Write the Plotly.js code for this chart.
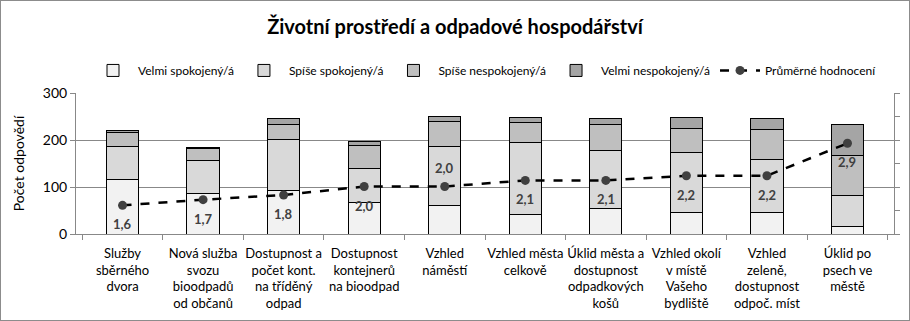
<!DOCTYPE html>
<html><head><meta charset="utf-8">
<script src="https://cdn.plot.ly/plotly-3.0.1.min.js"></script>
<style>html,body{margin:0;padding:0;background:#fff}#c{width:910px;height:321px;outline:1px solid #8c8c8c;outline-offset:-1px}</style>
</head><body><div id="c"></div>
<script>
const categories = [
  "Služby<br>sběrného<br>dvora",
  "Nová služba<br>svozu<br>bioodpadů<br>od občanů",
  "Dostupnost a<br>počet kont.<br>na tříděný<br>odpad",
  "Dostupnost<br>kontejnerů<br>na bioodpad",
  "Vzhled<br>náměstí",
  "Vzhled města<br>celkově",
  "Úklid města a<br>dostupnost<br>odpadkových<br>košů",
  "Vzhled okolí<br>v místě<br>Vašeho<br>bydliště",
  "Vzhled<br>zeleně,<br>dostupnost<br>odpoč. míst",
  "Úklid po<br>psech ve<br>městě"
];
const velmiSpokojeny   = [115, 87, 93, 66, 61, 42, 55, 46, 46, 15];
const spiseSpokojeny   = [72, 70, 109, 74, 126, 152, 122, 127, 113, 67];
const spiseNespokojeny = [30, 24, 30, 48, 53, 44, 55, 52, 64, 84];
const velmiNespokojeny = [4, 2, 13, 8, 11, 9, 13, 22, 22, 68];
const prumer = [1.61, 1.73, 1.83, 2.01, 2.01, 2.14, 2.14, 2.24, 2.24, 2.93];
const prumerLabels = ["1,6", "1,7", "1,8", "2,0", "2,0", "2,1", "2,1", "2,2", "2,2", "2,9"];
const labelAbove = [false, false, false, false, true, false, false, false, false, false];

const FONT = "Lato, 'Open Sans', sans-serif";
function bar(name, y, color){
  return {type:'bar', name:name, x:categories, y:y,
    marker:{color:color, line:{color:'#000', width:1}}, hoverinfo:'y+name'};
}
const traces = [
  bar('Velmi spokojený/á', velmiSpokojeny, '#f2f2f2'),
  bar('Spíše spokojený/á', spiseSpokojeny, '#d9d9d9'),
  bar('Spíše nespokojený/á', spiseNespokojeny, '#bfbfbf'),
  bar('Velmi nespokojený/á', velmiNespokojeny, '#a5a5a5'),
  {type:'scatter', mode:'lines+markers', name:'Průměrné hodnocení', x:categories, y:prumer, yaxis:'y2',
    line:{color:'#000', width:2.5, dash:'dash'}, marker:{color:'#404040', size:9}}
];
const annotations = categories.map((c, i) => ({
  x: c, y: prumer[i], xref:'x', yref:'y2', text: prumerLabels[i], showarrow:false,
  yshift: labelAbove[i] ? 19 : -19,
  font:{family:FONT, size:13, color:'#404040', weight:'bold'}
}));
const layout = {
  width:910, height:321,
  margin:{l:76, r:16, t:93, b:87},
  paper_bgcolor:'rgba(0,0,0,0)', plot_bgcolor:'#fff',
  font:{family:FONT, size:12, color:'#000'},
  title:{text:'<b>Životní prostředí a odpadové hospodářství</b>', x:0.5, xanchor:'center', y:0.915, yanchor:'middle', font:{size:20, family:FONT}},
  barmode:'stack', bargap:0.6,
  showlegend:true,
  legend:{orientation:'h', x:0.5, xanchor:'center', y:1.16, yanchor:'middle', font:{size:12, family:FONT}, traceorder:'normal', itemwidth:40},
  annotations: annotations,
  xaxis:{type:'category', tickson:'boundaries', tickangle:0, ticks:'outside', ticklen:5, tickcolor:'#888', showline:true, linecolor:'#888', showgrid:false, tickfont:{size:13, family:FONT}, ticklabelstandoff:7, automargin:false},
  yaxis:{range:[0,300], dtick:100, ticks:'outside', ticklen:5, tickcolor:'#888', showline:true, linecolor:'#888', gridcolor:'#888', zeroline:false, tickfont:{size:14}, title:{text:'Počet odpovědí', font:{size:14}, standoff:14}},
  yaxis2:{overlaying:'y', side:'right', range:[1,4], dtick:0.5, ticks:'outside', ticklen:5, tickcolor:'#888', showline:true, linecolor:'#888', showgrid:false, showticklabels:false, zeroline:false}
};
Plotly.newPlot('c', traces, layout, {displayModeBar:false, staticPlot:true});
</script></body></html>
